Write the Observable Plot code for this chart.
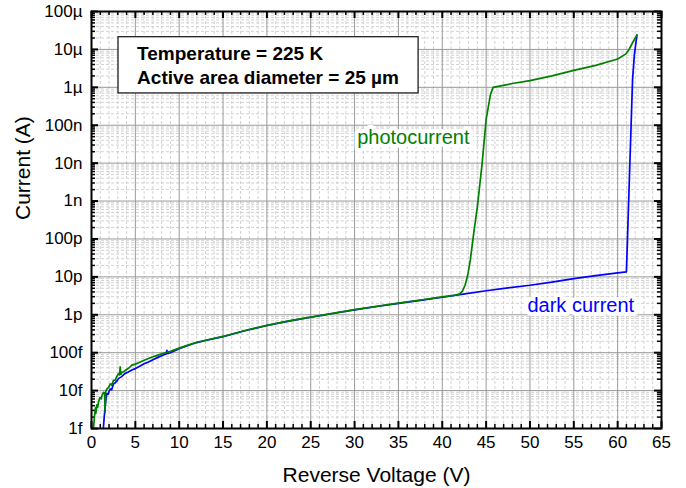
<!DOCTYPE html>
<html>
<head>
<meta charset="utf-8">
<script src="https://cdn.jsdelivr.net/npm/d3@7"></script>
<script src="https://cdn.jsdelivr.net/npm/@observablehq/plot@0.6"></script>
<style>
  html, body { margin: 0; padding: 0; background: #fff; }
  #chart svg { display: block; }
</style>
</head>
<body>
<div id="chart"></div>
<script>
// ---- data ----
const darkV = [1.35, 1.45, 1.55, 1.65, 1.75, 1.9, 2.0, 2.13, 2.3, 2.5, 2.7, 2.9, 3.1, 3.4, 3.8, 4.2, 4.6, 5.0, 5.5, 6.0, 6.5, 7.0, 7.5, 8.0, 8.5, 8.6, 8.7, 9.0, 10, 11, 12, 13, 15, 17.5, 20, 22.5, 25, 27.5, 30, 32.5, 35, 37.5, 40, 42, 45, 47.5, 50, 52.5, 55, 57.5, 60, 61.0, 61.35, 61.7, 61.9, 62.05, 62.2];
const darkI = [1e-15, 2e-15, 3.7e-15, 6e-15, 8.3e-15, 8e-15, 9.5e-15, 11e-15, 10.5e-15, 15e-15, 16e-15, 18e-15, 21e-15, 23e-15, 28e-15, 31e-15, 35e-15, 38e-15, 44e-15, 51e-15, 57e-15, 65e-15, 74e-15, 83e-15, 92e-15, 115e-15, 95e-15, 100e-15, 128e-15, 155e-15, 185e-15, 210e-15, 265e-15, 380e-15, 520e-15, 680e-15, 860e-15, 1.08e-12, 1.35e-12, 1.65e-12, 2.0e-12, 2.4e-12, 2.9e-12, 3.4e-12, 4.3e-12, 5.1e-12, 6.0e-12, 7.3e-12, 9.0e-12, 10.8e-12, 12.8e-12, 13.6e-12, 4.7e-9, 1.6e-6, 6.9e-6, 1.3e-5, 2.4e-5];

const photoV = [0.23, 0.35, 0.45, 0.5, 0.6, 0.7, 0.8, 0.95, 1.1, 1.2, 1.37, 1.5, 1.55, 1.62, 1.75, 1.95, 2.13, 2.3, 2.51, 2.7, 2.9, 3.08, 3.2, 3.27, 3.35, 3.46, 3.7, 4.0, 4.3, 4.6, 5.0, 5.5, 6.0, 6.5, 7.0, 7.5, 8.0, 8.5, 9.0, 10, 11, 12, 13, 15, 17.5, 20, 22.5, 25, 27.5, 30, 32.5, 35, 37.5, 40, 41.5, 42.0, 42.3, 42.6, 42.9, 43.2, 43.6, 44.0, 44.55, 45.0, 45.5, 45.8, 46.5, 48, 50, 52.5, 55, 57.5, 60, 60.9, 61.3, 61.7, 62.2];
const photoI = [1e-15, 2.2e-15, 3.5e-15, 2.5e-15, 4.2e-15, 3.6e-15, 5e-15, 6.5e-15, 6e-15, 7.5e-15, 9e-15, 8.5e-15, 2.7e-15, 9.5e-15, 11e-15, 12e-15, 15e-15, 14e-15, 18.6e-15, 19e-15, 24e-15, 28e-15, 26e-15, 42e-15, 27e-15, 30e-15, 32e-15, 36e-15, 40e-15, 47e-15, 50e-15, 56e-15, 63e-15, 70e-15, 78e-15, 85e-15, 93e-15, 101e-15, 108e-15, 132e-15, 158e-15, 188e-15, 213e-15, 268e-15, 385e-15, 525e-15, 690e-15, 870e-15, 1.09e-12, 1.37e-12, 1.67e-12, 2.02e-12, 2.45e-12, 2.95e-12, 3.3e-12, 3.55e-12, 4.2e-12, 6e-12, 1.1e-11, 2.8e-11, 1.5e-10, 7e-10, 1e-8, 1.4e-7, 6.5e-7, 1.0e-6, 1.07e-6, 1.26e-6, 1.5e-6, 2.0e-6, 2.8e-6, 3.8e-6, 5.6e-6, 7.5e-6, 1.0e-5, 1.5e-5, 2.4e-5];

// ---- axis ticks and labels ----
const xTicks = [0, 5, 10, 15, 20, 25, 30, 35, 40, 45, 50, 55, 60, 65];
const xMinorTicks = d3.range(0, 66).filter(v => v % 5 !== 0);
const yTicks = [1e-15, 1e-14, 1e-13, 1e-12, 1e-11, 1e-10, 1e-9, 1e-8, 1e-7, 1e-6, 1e-5, 1e-4];
const yTickLabels = ["1f", "10f", "100f", "1p", "10p", "100p", "1n", "10n", "100n", "1µ", "10µ", "100µ"];
const yMinorTicks = yTicks.slice(0, -1).flatMap(d => [2, 3, 4, 5, 6, 7, 8, 9].map(m => d * m));

const xTitle = "Reverse Voltage (V)";
const yTitle = "Current (A)";
const infoLines = ["Temperature = 225 K", "Active area diameter = 25 µm"];
const seriesLabels = ["photocurrent", "dark current"];

// annotation anchors (data coordinates)
const infoBox = {x1: 3.08, x2: 37.3, y1: 6.9e-7, y2: 2.1e-5};
const infoPos = [{v: 5.2, i: 7.6e-6}, {v: 5.2, i: 1.75e-6}];
const labelPos = [{v: 36.7, i: 4.7e-8, color: "#008000"}, {v: 55.8, i: 1.8e-12, color: "#0000ff"}];

const dark = darkV.map((v, k) => ({v, i: darkI[k]}));
const photo = photoV.map((v, k) => ({v, i: photoI[k]}));

const W = 686, H = 488, mL = 91, mR = 25, mT = 11, mB = 60;
const pw = W - mL - mR, ph = H - mT - mB;
const majorTick = 7, minorTick = 4;

const chart = Plot.plot({
  width: W, height: H,
  marginLeft: mL, marginRight: mR, marginTop: mT, marginBottom: mB,
  style: {fontFamily: "'Liberation Sans', Arial, sans-serif", fontSize: "17px", color: "black", background: "white"},
  x: {domain: [0, 65], ticks: xTicks, tickSize: 0, tickPadding: 7, label: null},
  y: {type: "log", domain: [1e-15, 1e-4], ticks: yTicks, tickSize: 0, tickPadding: 9, label: null,
      tickFormat: d => yTickLabels[yTicks.findIndex(t => Math.abs(Math.log10(t) - Math.log10(d)) < 1e-6)]},
  marks: [
    // minor grid
    Plot.ruleX(xMinorTicks, {x: d => d, stroke: "#d2d2d2", strokeWidth: 1, strokeDasharray: "3,2"}),
    Plot.ruleY(yMinorTicks, {y: d => d, stroke: "#d2d2d2", strokeWidth: 1, strokeDasharray: "3,2"}),
    // major grid
    Plot.ruleX(xTicks, {x: d => d, stroke: "#9a9a9a", strokeWidth: 1}),
    Plot.ruleY(yTicks, {y: d => d, stroke: "#9a9a9a", strokeWidth: 1}),
    // inward tick marks
    Plot.tickX(xTicks, {x: d => d, stroke: "black", strokeWidth: 2, insetTop: ph - majorTick}),
    Plot.tickX(xTicks, {x: d => d, stroke: "black", strokeWidth: 2, insetBottom: ph - majorTick}),
    Plot.tickX(xMinorTicks, {x: d => d, stroke: "black", strokeWidth: 1.5, insetTop: ph - minorTick}),
    Plot.tickX(xMinorTicks, {x: d => d, stroke: "black", strokeWidth: 1.5, insetBottom: ph - minorTick}),
    Plot.tickY(yTicks, {y: d => d, stroke: "black", strokeWidth: 2, insetRight: pw - majorTick}),
    Plot.tickY(yTicks, {y: d => d, stroke: "black", strokeWidth: 2, insetLeft: pw - majorTick}),
    Plot.tickY(yMinorTicks, {y: d => d, stroke: "black", strokeWidth: 1.5, insetRight: pw - minorTick}),
    Plot.tickY(yMinorTicks, {y: d => d, stroke: "black", strokeWidth: 1.5, insetLeft: pw - minorTick}),
    // data
    Plot.line(dark, {x: "v", y: "i", stroke: "#0000ff", strokeWidth: 1.7, curve: "linear"}),
    Plot.line(photo, {x: "v", y: "i", stroke: "#008000", strokeWidth: 1.7, curve: "linear"}),
    // series labels
    Plot.text(labelPos, {x: "v", y: "i", text: (d, k) => seriesLabels[k], fill: "color",
      fontSize: 20, stroke: "white", strokeWidth: 8, paintOrder: "stroke", textAnchor: "middle", lineAnchor: "middle"}),
    // info box
    Plot.rect([infoBox], {x1: "x1", x2: "x2", y1: "y1", y2: "y2", fill: "white", stroke: "#222", strokeWidth: 1.3}),
    Plot.text(infoPos, {x: "v", y: "i", text: (d, k) => infoLines[k], fontSize: 19, fontWeight: "bold",
      fill: "black", textAnchor: "start", lineAnchor: "middle"}),
    // frame
    Plot.frame({stroke: "black", strokeWidth: 2}),
    // axis titles
    Plot.text([xTitle], {frameAnchor: "bottom", dy: 47, fontSize: 21, fill: "black", lineAnchor: "middle"}),
    Plot.text([yTitle], {frameAnchor: "left", dx: -68, rotate: -90, fontSize: 21, fill: "black", lineAnchor: "middle"})
  ]
});
document.getElementById("chart").appendChild(chart);
</script>
</body>
</html>
